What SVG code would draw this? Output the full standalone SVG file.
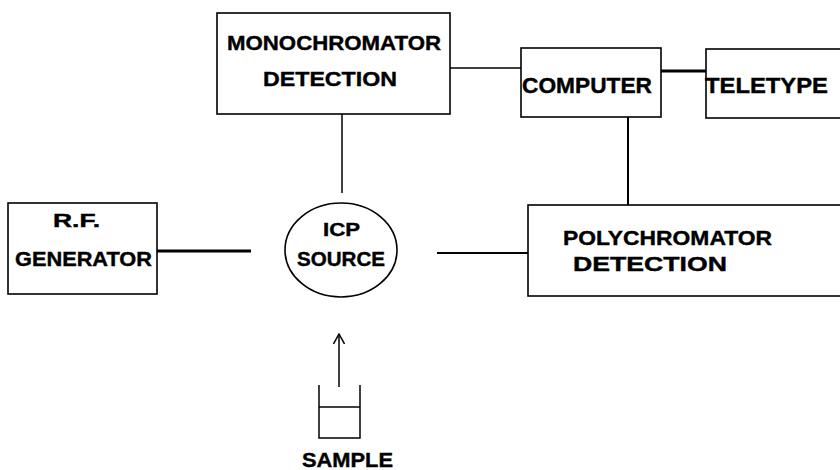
<svg xmlns="http://www.w3.org/2000/svg" width="840" height="470" viewBox="0 0 840 470">
<style>
.box{fill:none;stroke:#000;stroke-width:1.6}
.thin{stroke:#000;stroke-width:1.5;fill:none}
.thick{stroke:#000;stroke-width:3;fill:none}
.t{font-family:"Liberation Sans",Arial,sans-serif;font-weight:bold;fill:#000;stroke:#000;stroke-width:0.4}
</style>
<defs>
<marker id="arr" viewBox="0 0 12 12" refX="11" refY="6" markerWidth="12" markerHeight="12" markerUnits="userSpaceOnUse" orient="auto">
<path d="M1,0.5 L11,6 L1,11.5" fill="none" stroke="#000" stroke-width="1.5"/>
</marker>
</defs>
<rect width="840" height="470" fill="#fff"/>
<g id="connectors">
<line class="thin" x1="450" y1="68" x2="521" y2="68"/>
<line class="thick" x1="661" y1="71" x2="706" y2="71"/>
<line class="thin" x1="342" y1="114" x2="342" y2="193"/>
<line class="thin" x1="628" y1="117" x2="628" y2="205" style="stroke-width:2"/>
<line class="thick" x1="157" y1="251" x2="251" y2="251"/>
<line class="thin" x1="437" y1="253" x2="528" y2="253" style="stroke-width:2"/>
<line class="thin" x1="339" y1="387" x2="339" y2="334" marker-end="url(#arr)"/>
</g>
<g id="mono">
<rect class="box" x="217" y="13" width="233" height="101"/>
<text class="t" x="227" y="50" font-size="21" textLength="214" lengthAdjust="spacingAndGlyphs">MONOCHROMATOR</text>
<text class="t" x="263" y="86" font-size="21" textLength="134" lengthAdjust="spacingAndGlyphs">DETECTION</text>
</g>
<g id="computer">
<rect class="box" x="521" y="48" width="140" height="69"/>
<text class="t" x="522" y="93" font-size="22" textLength="130" lengthAdjust="spacingAndGlyphs">COMPUTER</text>
</g>
<g id="teletype">
<rect class="box" x="706" y="49" width="150" height="69"/>
<text class="t" x="705" y="93" font-size="22" textLength="123" lengthAdjust="spacingAndGlyphs">TELETYPE</text>
</g>
<g id="rf">
<rect class="box" x="8" y="203" width="149" height="91"/>
<text class="t" x="53" y="227" font-size="18" textLength="47" lengthAdjust="spacingAndGlyphs">R.F.</text>
<text class="t" x="15" y="266" font-size="20" textLength="137" lengthAdjust="spacingAndGlyphs">GENERATOR</text>
</g>
<g id="icp">
<ellipse class="box" cx="341" cy="250" rx="56" ry="47"/>
<text class="t" x="323" y="236" font-size="19" textLength="37" lengthAdjust="spacingAndGlyphs">ICP</text>
<text class="t" x="297" y="266" font-size="20" textLength="88" lengthAdjust="spacingAndGlyphs">SOURCE</text>
</g>
<g id="poly">
<rect class="box" x="528" y="205" width="330" height="91"/>
<text class="t" x="563" y="245" font-size="21" textLength="209" lengthAdjust="spacingAndGlyphs">POLYCHROMATOR</text>
<text class="t" x="573" y="271" font-size="21" textLength="154" lengthAdjust="spacingAndGlyphs">DETECTION</text>
</g>
<g id="sample">
<path class="thin" d="M319,385 V438 H360 V385"/>
<line class="thin" x1="319" y1="407" x2="360" y2="407"/>
<text class="t" x="302" y="467" font-size="21" textLength="91" lengthAdjust="spacingAndGlyphs">SAMPLE</text>
</g>
</svg>
